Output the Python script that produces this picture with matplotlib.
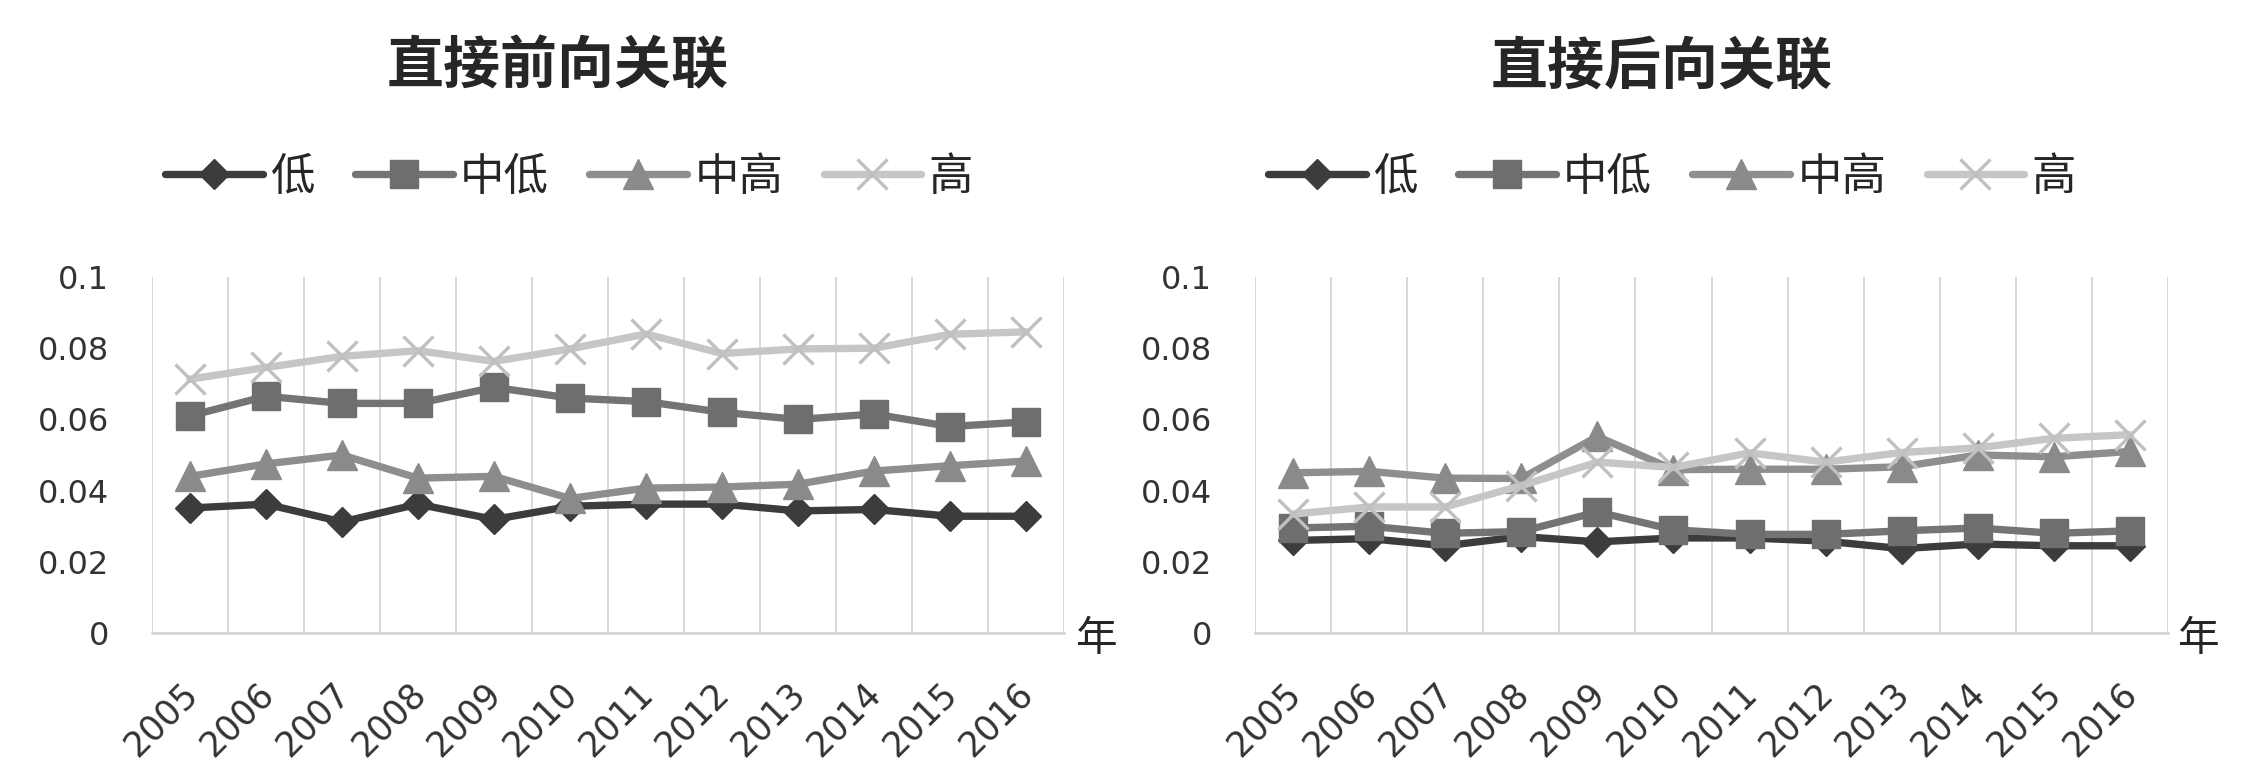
import matplotlib
matplotlib.use("Agg")
import matplotlib.pyplot as plt
from matplotlib.transforms import ScaledTranslation

# ---------------- data ----------------
years = ["2005", "2006", "2007", "2008", "2009", "2010",
         "2011", "2012", "2013", "2014", "2015", "2016"]
series_names = ["低", "中低", "中高", "高"]

# 直接前向关联
fwd_low = [0.0351, 0.0362, 0.0312, 0.0362, 0.0319, 0.0356, 0.0362, 0.0362, 0.0343, 0.0347, 0.0328, 0.0328]
fwd_midlow = [0.0610, 0.0665, 0.0645, 0.0645, 0.0690, 0.0660, 0.0650, 0.0620, 0.0600, 0.0615, 0.0580, 0.0593]
fwd_midhigh = [0.0440, 0.0475, 0.0500, 0.0435, 0.0440, 0.0378, 0.0407, 0.0410, 0.0418, 0.0455, 0.0470, 0.0483]
fwd_high = [0.0713, 0.0746, 0.0777, 0.0793, 0.0763, 0.0798, 0.0840, 0.0785, 0.0798, 0.0800, 0.0839, 0.0846]

# 直接后向关联
bwd_low = [0.0260, 0.0265, 0.0245, 0.0271, 0.0256, 0.0267, 0.0267, 0.0258, 0.0237, 0.0250, 0.0245, 0.0245]
bwd_midlow = [0.0295, 0.0300, 0.0280, 0.0285, 0.0340, 0.0290, 0.0277, 0.0277, 0.0287, 0.0295, 0.0280, 0.0287]
bwd_midhigh = [0.0450, 0.0454, 0.0435, 0.0434, 0.0552, 0.0459, 0.0460, 0.0460, 0.0467, 0.0500, 0.0495, 0.0510]
bwd_high = [0.0334, 0.0354, 0.0354, 0.0414, 0.0480, 0.0465, 0.0506, 0.0480, 0.0507, 0.0520, 0.0547, 0.0557]

titles = ["直接前向关联", "直接后向关联"]
y_ticks = [0, 0.02, 0.04, 0.06, 0.08, 0.1]
y_tick_labels = ["0", "0.02", "0.04", "0.06", "0.08", "0.1"]
x_unit = "年"

# ---------------- style ----------------
CJK = ["Noto Sans CJK SC", "DejaVu Sans"]
NUM = ["DejaVu Sans"]
plt.rcParams["font.family"] = CJK

styles = [
    dict(color="#3c3c3c", marker="D", ms=15, mec="#3c3c3c", mfc="#3c3c3c", mew=1),
    dict(color="#747474", marker="s", ms=20, mec="#6e6e6e", mfc="#6e6e6e", mew=1),
    dict(color="#8e8e8e", marker="^", ms=22, mec="#8a8a8a", mfc="#8a8a8a", mew=1),
    dict(color="#c6c6c6", marker="x", ms=22, mec="#c0c0c0", mfc="none", mew=2.4),
]

W, H = 2241, 784
fig = plt.figure(figsize=(W / 100, H / 100), dpi=100)
fig.patch.set_facecolor("white")

axes_px = [(152, 633, 912, 356), (1255, 633, 913, 356)]
title_x = [558, 1662]
unit_x = [1097, 2199]
legend_x = [165, 1268]

datasets = [
    [fwd_low, fwd_midlow, fwd_midhigh, fwd_high],
    [bwd_low, bwd_midlow, bwd_midhigh, bwd_high],
]

x = list(range(len(years)))
shift = ScaledTranslation(-10 / 100, 0, fig.dpi_scale_trans)

for i, (data, (lx, by, wd, ht)) in enumerate(zip(datasets, axes_px)):
    ax = fig.add_axes([lx / W, 1 - by / H, wd / W, ht / H])
    ax.set_xlim(-0.5, len(years) - 0.5)
    ax.set_ylim(0, 0.1)

    # vertical category-boundary gridlines (Excel style)
    for b in range(len(years) + 1):
        ax.axvline(b - 0.5, color="#d6d6d6", lw=1.3, zorder=0)

    handles = []
    for vals, name, st in zip(data, series_names, styles):
        (h,) = ax.plot(x, vals, lw=5.3, solid_capstyle="round",
                       solid_joinstyle="round", label=name, zorder=3, **st)
        handles.append(h)

    for s in ["top", "right", "left"]:
        ax.spines[s].set_visible(False)
    ax.spines["bottom"].set_color("#d0d0d0")
    ax.spines["bottom"].set_linewidth(1.8)

    ax.set_yticks(y_ticks)
    ax.set_yticklabels(y_tick_labels, family=NUM, fontsize=23, color="#333333")
    ax.tick_params(axis="y", length=0, pad=31)

    ax.set_xticks(x)
    ax.set_xticklabels(years, family=NUM, fontsize=25, color="#333333",
                       rotation=45, ha="right", va="top", rotation_mode="anchor")
    ax.tick_params(axis="x", length=0, pad=31)
    for lab in ax.get_xticklabels():
        lab.set_transform(lab.get_transform() + shift)

    fig.text(title_x[i] / W, 1 - 66 / H, titles[i], ha="center", va="center",
             fontsize=41, fontweight="bold", color="#262626", family=CJK)
    fig.text(unit_x[i] / W, 1 - 640 / H, x_unit, ha="center", va="center",
             fontsize=30, color="#262626", family=CJK)

    leg = ax.legend(handles=handles, loc="center left",
                    bbox_to_anchor=(legend_x[i] / W, 1 - 177 / H),
                    bbox_transform=fig.transFigure, ncol=4, frameon=False,
                    borderpad=0, borderaxespad=0, handlelength=2.2,
                    handletextpad=0.17, columnspacing=0.9,
                    prop=dict(family=CJK, size=32))
    for t in leg.get_texts():
        t.set_color("#262626")

fig.savefig("out.png", dpi=100, facecolor="white")
